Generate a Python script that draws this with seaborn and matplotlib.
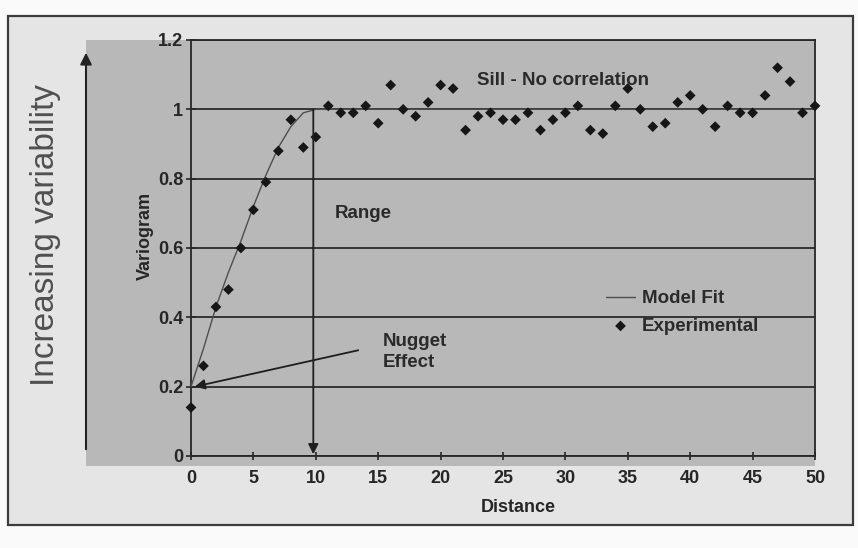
import matplotlib
matplotlib.use("Agg")
import matplotlib.pyplot as plt
from matplotlib.patches import Rectangle, FancyArrowPatch
import pandas as pd
import seaborn as sns

# Experimental variogram: one value per lag distance
distance = list(range(51))
variogram = [0.14, 0.26, 0.43, 0.48, 0.60, 0.71, 0.79, 0.88, 0.97, 0.89, 0.92,
             1.01, 0.99, 0.99, 1.01, 0.96, 1.07, 1.00, 0.98, 1.02, 1.07,
             1.06, 0.94, 0.98, 0.99, 0.97, 0.97, 0.99, 0.94, 0.97, 0.99,
             1.01, 0.94, 0.93, 1.01, 1.06, 1.00, 0.95, 0.96, 1.02, 1.04,
             1.00, 0.95, 1.01, 0.99, 0.99, 1.04, 1.12, 1.08, 0.99, 1.01]

# Fitted model: rises from the nugget to the sill at the range, then stays flat
model_distance = [0, 1, 2, 3, 4, 5, 6, 7, 8, 9, 10, 50]
model_fit = [0.20, 0.31, 0.43, 0.53, 0.62, 0.72, 0.81, 0.89, 0.95, 0.99, 1.00, 1.00]

x_ticks = [0, 5, 10, 15, 20, 25, 30, 35, 40, 45, 50]
y_ticks = [0, 0.2, 0.4, 0.6, 0.8, 1.0, 1.2]
y_tick_labels = ["0", "0.2", "0.4", "0.6", "0.8", "1", "1.2"]

nugget = 0.2
range_distance = 9.8

exp_df = pd.DataFrame({"Distance": distance, "Variogram": variogram})
fit_df = pd.DataFrame({"Distance": model_distance, "Variogram": model_fit})

sns.set_style("ticks")
plt.rcParams["font.family"] = ["Liberation Sans", "DejaVu Sans"]
plt.rcParams["font.weight"] = "bold"

W, H = 858, 548
fig = plt.figure(figsize=(W / 100, H / 100), dpi=100)
fig.patch.set_facecolor("#fafafa")


def fx(px):
    return px / W


def fy(py):
    return 1 - py / H


# page frame and the grey chart panel behind the axes
fig.patches.append(Rectangle((fx(8), fy(525)), fx(853) - fx(8), fy(16) - fy(525),
                             transform=fig.transFigure, facecolor="#e5e5e5",
                             edgecolor="#3c3c3c", lw=1.6, zorder=-3))
fig.patches.append(Rectangle((fx(86), fy(466)), fx(815) - fx(86), fy(40) - fy(466),
                             transform=fig.transFigure, facecolor="#b8b8b8",
                             edgecolor="none", zorder=-2))

ax = fig.add_axes([fx(191), fy(456), fx(815) - fx(191), fy(40) - fy(456)])
ax.set_facecolor("#b8b8b8")

ink = "#262626"
sns.lineplot(data=fit_df, x="Distance", y="Variogram", ax=ax, color="#4e4e4e",
             lw=1.0, label="Model Fit", zorder=3)
sns.scatterplot(data=exp_df, x="Distance", y="Variogram", ax=ax, marker="D",
                s=30, color="#161616", edgecolor="none", label="Experimental",
                zorder=4, clip_on=False)

ax.set_xlim(0, 50)
ax.set_ylim(0, 1.2)
ax.set_xticks(x_ticks)
ax.set_yticks(y_ticks)
ax.set_yticklabels(y_tick_labels)
ax.tick_params(axis="x", direction="inout", length=6, width=1.2, pad=7,
               labelsize=13, colors=ink)
ax.tick_params(axis="y", direction="inout", length=7, width=1.2, pad=2,
               labelsize=13, colors=ink)
for lab in ax.get_xticklabels() + ax.get_yticklabels():
    lab.set_fontweight("bold")

ax.grid(axis="y", color="#2a2a2a", lw=1.3)
ax.set_axisbelow(True)
for sp in ax.spines.values():
    sp.set_visible(True)
    sp.set_color(ink)
    sp.set_linewidth(1.3)

ax.set_xlabel("Distance", fontsize=13, fontweight="bold", color=ink)
ax.xaxis.set_label_coords((518 - 191) / 624, (456 - 499) / 416)
ax.xaxis.label.set_va("top")
ax.set_ylabel("")
fig.text(fx(145), fy(236), "Variogram", rotation=90, ha="center", va="center",
         fontsize=13, fontweight="bold", color=ink)

txt = dict(fontsize=13.5, fontweight="bold", color="#2a2a2a")
ax.text(22.9, 1.09, "Sill - No correlation", ha="left", va="center_baseline", **txt)
ax.text(11.5, 0.705, "Range", ha="left", va="center_baseline", **txt)
ax.text(15.4, 0.30, "Nugget\nEffect", ha="left", va="center", linespacing=1.3, **txt)

arrow = dict(arrowstyle="-|>", color="#1e1e1e", lw=1.3, mutation_scale=15,
             shrinkA=0, shrinkB=0)
ax.annotate("", xy=(range_distance, 0.005), xytext=(range_distance, 1.0),
            arrowprops=arrow, zorder=5)
ax.annotate("", xy=(0.3, nugget), xytext=(13.4, 0.305), arrowprops=arrow, zorder=5)

leg = ax.legend(loc="upper left", bbox_to_anchor=(33.25, 0.478),
                bbox_transform=ax.transData, frameon=False, borderpad=0,
                borderaxespad=0, handlelength=1.55, handletextpad=0.35,
                labelspacing=0.55, prop={"size": 13.5, "weight": "bold"})
for t in leg.get_texts():
    t.set_color("#2a2a2a")

# side annotation: variability grows upward
fig.text(fx(46), fy(235), "Increasing variability", rotation=90, ha="center",
         va="center", fontsize=24, fontweight="normal", color="#505050")
fig.patches.append(FancyArrowPatch((fx(86), fy(452)), (fx(86), fy(50)),
                                   transform=fig.transFigure, arrowstyle="-|>",
                                   mutation_scale=17, lw=1.5, color="#222222",
                                   zorder=2))

fig.savefig("out.png", dpi=100, facecolor=fig.get_facecolor())
